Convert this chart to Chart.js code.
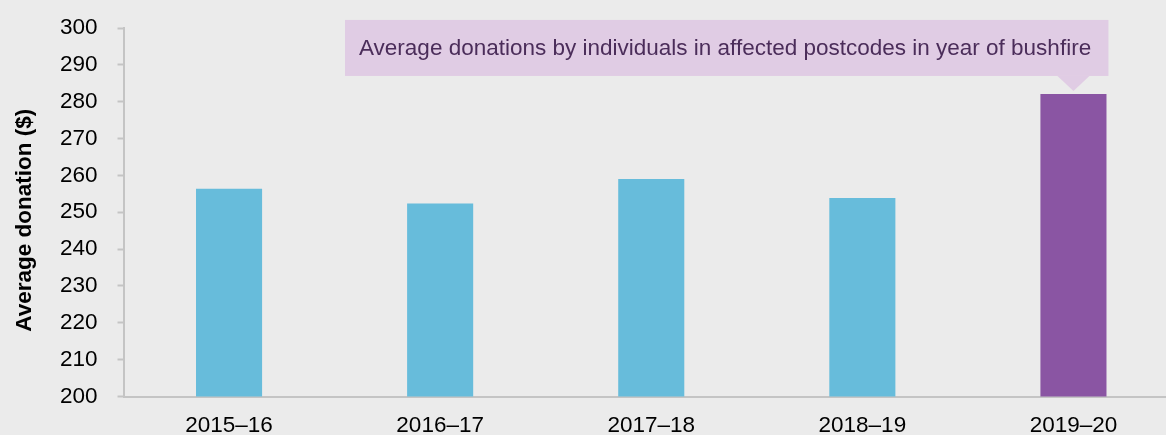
<!DOCTYPE html>
<html>
<head>
<meta charset="utf-8">
<script src="https://cdn.jsdelivr.net/npm/chart.js@4"></script>
<style>
  html, body { margin: 0; padding: 0; background: #ebebeb; overflow: hidden; }
  #wrap { width: 1166px; height: 435px; overflow: hidden; position: relative; }
  canvas { position: absolute; left: 0; top: 0; }
</style>
</head>
<body>
<div id="wrap"><canvas id="c" width="1180" height="435"></canvas></div>
<script>
const categories = ["2015–16", "2016–17", "2017–18", "2018–19", "2019–20"];
const averageDonation = [256.4, 252.4, 259.0, 253.9, 282.1];
const barColors = ["#67bcdb", "#67bcdb", "#67bcdb", "#67bcdb", "#8a55a3"];
const yTickMin = 200, yTickMax = 300, yTickStep = 10;
const yAxisTitle = "Average donation ($)";
const calloutText = "Average donations by individuals in affected postcodes in year of bushfire";

const FONT = "'Liberation Sans', Arial, sans-serif";
const FS = 22.5;

const calloutPlugin = {
  id: 'callout',
  afterDatasetsDraw(chart) {
    const ctx = chart.ctx;
    const bar = chart.getDatasetMeta(0).data[4];
    const tipX = bar.x, tipY = bar.y - 3;
    const boxBottom = tipY - 15;
    const boxTop = boxBottom - 56;
    const boxRight = bar.x + 35;
    const boxLeft = chart.chartArea.left + 221.5;
    ctx.save();
    ctx.fillStyle = '#e0cce4';
    ctx.fillRect(boxLeft, boxTop, boxRight - boxLeft, boxBottom - boxTop);
    ctx.beginPath();
    ctx.moveTo(tipX - 16, boxBottom);
    ctx.lineTo(tipX + 16, boxBottom);
    ctx.lineTo(tipX, tipY);
    ctx.closePath();
    ctx.fill();
    ctx.fillStyle = '#4b2d5a';
    ctx.font = FS + "px " + FONT;
    ctx.textBaseline = 'middle';
    ctx.textAlign = 'left';
    ctx.fillText(calloutText, boxLeft + 14, (boxTop + boxBottom) / 2 + 1);
    ctx.restore();
  }
};

const yTitlePlugin = {
  id: 'yTitle',
  afterDraw(chart) {
    const ctx = chart.ctx;
    const area = chart.chartArea;
    ctx.save();
    ctx.translate(25, (area.top + area.bottom) / 2 + 8);
    ctx.rotate(-Math.PI / 2);
    ctx.fillStyle = '#000';
    ctx.font = "bold " + FS + "px " + FONT;
    ctx.textAlign = 'center';
    ctx.textBaseline = 'middle';
    ctx.fillText(yAxisTitle, 0, 0);
    ctx.restore();
  }
};

new Chart(document.getElementById('c'), {
  type: 'bar',
  data: {
    labels: categories,
    datasets: [{
      data: averageDonation,
      backgroundColor: barColors,
      borderWidth: 0,
      barPercentage: 0.313,
      categoryPercentage: 1.0
    }]
  },
  options: {
    responsive: false,
    animation: false,
    layout: { padding: { top: 28, left: 0, right: 1, bottom: 0 } },
    plugins: { legend: { display: false }, tooltip: { enabled: false } },
    scales: {
      x: {
        grid: { display: true, drawOnChartArea: false, drawTicks: true, tickLength: 4, tickColor: 'rgba(0,0,0,0)' },
        border: { display: true, color: '#c4c4c4', width: 2 },
        ticks: { color: '#000', font: { family: FONT, size: FS }, padding: 12, maxRotation: 0 },
        afterFit(scale) { scale.height = 38.5; scale.paddingLeft = 0; scale.paddingRight = 0; }
      },
      y: {
        min: yTickMin, max: yTickMax,
        ticks: { stepSize: yTickStep, color: '#000', font: { family: FONT, size: FS }, padding: 20 },
        grid: { display: true, drawOnChartArea: false, drawTicks: true, tickLength: 6, color: '#c4c4c4', tickWidth: 2 },
        border: { display: true, color: '#c4c4c4', width: 2 },
        title: { display: false },
        afterFit(scale) { scale.width = 123.5; scale.paddingTop = 0; scale.paddingBottom = 0; }
      }
    }
  },
  plugins: [calloutPlugin, yTitlePlugin]
});
</script>
</body>
</html>
